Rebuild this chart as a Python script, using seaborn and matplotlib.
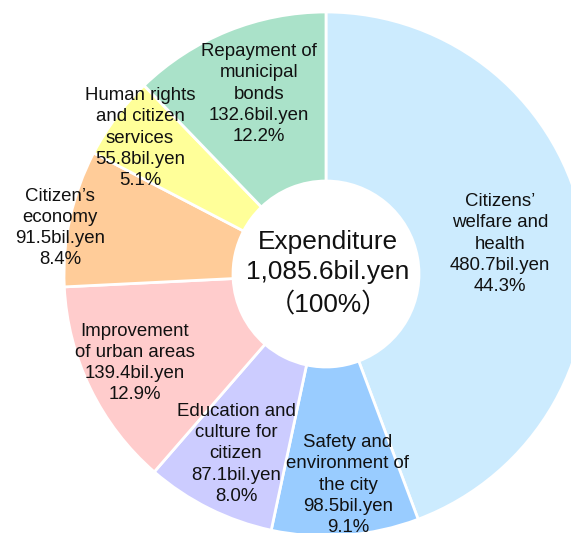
import matplotlib.pyplot as plt
import seaborn as sns

# Expenditure breakdown, clockwise from 12 o'clock
names = ["Citizens\u2019\nwelfare and\nhealth",
         "Safety and\nenvironment of\nthe city",
         "Education and\nculture for\ncitizen",
         "Improvement\nof urban areas",
         "Citizen\u2019s\neconomy",
         "Human rights\nand citizen\nservices",
         "Repayment of\nmunicipal\nbonds"]
amounts = [480.7, 98.5, 87.1, 139.4, 91.5, 55.8, 132.6]
shares = [44.3, 9.1, 8.0, 12.9, 8.4, 5.1, 12.2]
colors = ["#CCEBFE", "#99CCFF", "#CCCCFF", "#FFCCCC", "#FFCC99", "#FFFF99", "#AAE2C9"]

# label anchor points in picture pixels (x, y of block centre)
label_px = [(500, 244), (348, 485), (236, 454), (135, 363),
            (60, 228), (140, 138), (259, 94)]

sns.set_style("white")
plt.rcParams["font.family"] = ["Liberation Sans", "Noto Sans CJK JP", "DejaVu Sans"]

W, H = 571, 533
CX, CY, R = 326, 274, 262

fig = plt.figure(figsize=(W / 100, H / 100), dpi=100)
ax = fig.add_axes([0, 0, 1, 1])

ax.pie(amounts, colors=sns.color_palette(colors), startangle=90, counterclock=False,
       radius=1, wedgeprops=dict(width=1 - 93 / R, edgecolor="white", linewidth=2))

ax.set_xlim(-CX / R, (W - CX) / R)
ax.set_ylim(-(H - CY) / R, CY / R)
ax.set_aspect("auto")
ax.axis("off")


def to_data(px, py):
    return (px - CX) / R, (CY - py) / R


for name, amt, pct, (px, py) in zip(names, amounts, shares, label_px):
    x, y = to_data(px, py)
    ax.text(x, y, f"{name}\n{amt:.1f}bil.yen\n{pct:.1f}%", ha="center", va="center",
            fontsize=13.4, linespacing=1.32, color="#111111")

total = sum(amounts)
x, y = to_data(328, 273)
ax.text(x, y, f"Expenditure\n{total:,.1f}bil.yen\n\uff08100%\uff09", ha="center", va="center",
        fontsize=18.9, linespacing=1.34, color="#111111")

fig.savefig("out.png", dpi=100)
